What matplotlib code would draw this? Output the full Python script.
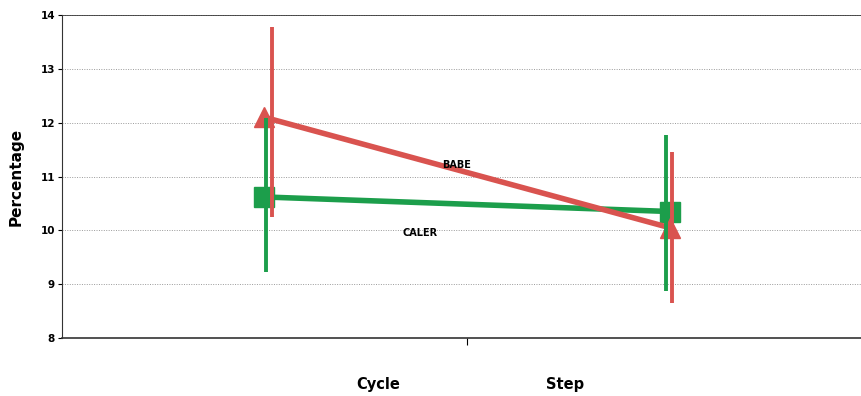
import matplotlib
matplotlib.use("Agg")
import matplotlib.pyplot as plt
import matplotlib.transforms as mtransforms

categories = ["Cycle", "Step"]
babe_mean = [12.1, 10.05]
babe_err_hi = [1.68, 1.4]
babe_err_lo = [1.85, 1.4]
caler_mean = [10.62, 10.35]
caler_err_hi = [1.47, 1.42]
caler_err_lo = [1.4, 1.48]
yticks = [8, 9, 10, 11, 12, 13, 14]

red = "#d9534f"
green = "#1c9e4b"

fig = plt.figure(figsize=(8.61, 3.96), dpi=100)
ax = fig.add_axes([0.072, 0.1465, 0.9408, 0.8155])

xs = [0.5, 1.5]
# small horizontal shifts so the two error bars don't sit on top of each other
caler_shift = [0.003, -0.008]
babe_shift = [0.018, 0.006]

ax.errorbar([x + s for x, s in zip(xs, caler_shift)], caler_mean,
            yerr=[caler_err_lo, caler_err_hi],
            fmt="none", ecolor=green, elinewidth=2.8, capsize=0, zorder=3)
ax.errorbar([x + s for x, s in zip(xs, babe_shift)], babe_mean,
            yerr=[babe_err_lo, babe_err_hi],
            fmt="none", ecolor=red, elinewidth=2.8, capsize=0, zorder=4)

ax.plot(xs, caler_mean, color=green, lw=4, marker="s", markersize=14,
        markeredgecolor=green, zorder=2)
ax.plot(xs, babe_mean, color=red, lw=4, marker="^", markersize=15,
        markeredgecolor=red, zorder=2)

ax.text(0.975, 11.22, "BABE", fontsize=7, fontweight="bold", ha="center", va="center")
ax.text(0.885, 9.95, "CALER", fontsize=7, fontweight="bold", ha="center", va="center")

ax.set_xlim(0, 2)
ax.set_ylim(8, 14)
ax.set_yticks(yticks)
ax.set_yticklabels([str(t) for t in yticks], fontsize=7.5, fontweight="bold")
ax.set_xticks([1])
ax.set_xticklabels([""])
ax.tick_params(axis="x", direction="out", length=5, width=0.8)
ax.tick_params(axis="y", direction="out", length=3, width=0.8, pad=2)

ax.grid(axis="y", color="#9a9a9a", linestyle=(0, (1, 1.5)), linewidth=0.7)
ax.set_axisbelow(True)
ax.axhline(14, color="#333333", lw=1.2, zorder=1)
for side in ["right", "top"]:
    ax.spines[side].set_visible(False)
ax.spines["left"].set_color("#333333")
ax.spines["bottom"].set_color("#333333")
ax.spines["bottom"].set_linewidth(1.2)

ax.set_ylabel("Percentage", fontsize=11, fontweight="bold", labelpad=12)

trans = mtransforms.blended_transform_factory(ax.transData, fig.transFigure)
ax.text(0.78, 0.03, categories[0], transform=trans, fontsize=10.5,
        fontweight="bold", ha="center", va="center")
ax.text(1.242, 0.03, categories[1], transform=trans, fontsize=10.5,
        fontweight="bold", ha="center", va="center")

fig.savefig("out.png", dpi=100)
